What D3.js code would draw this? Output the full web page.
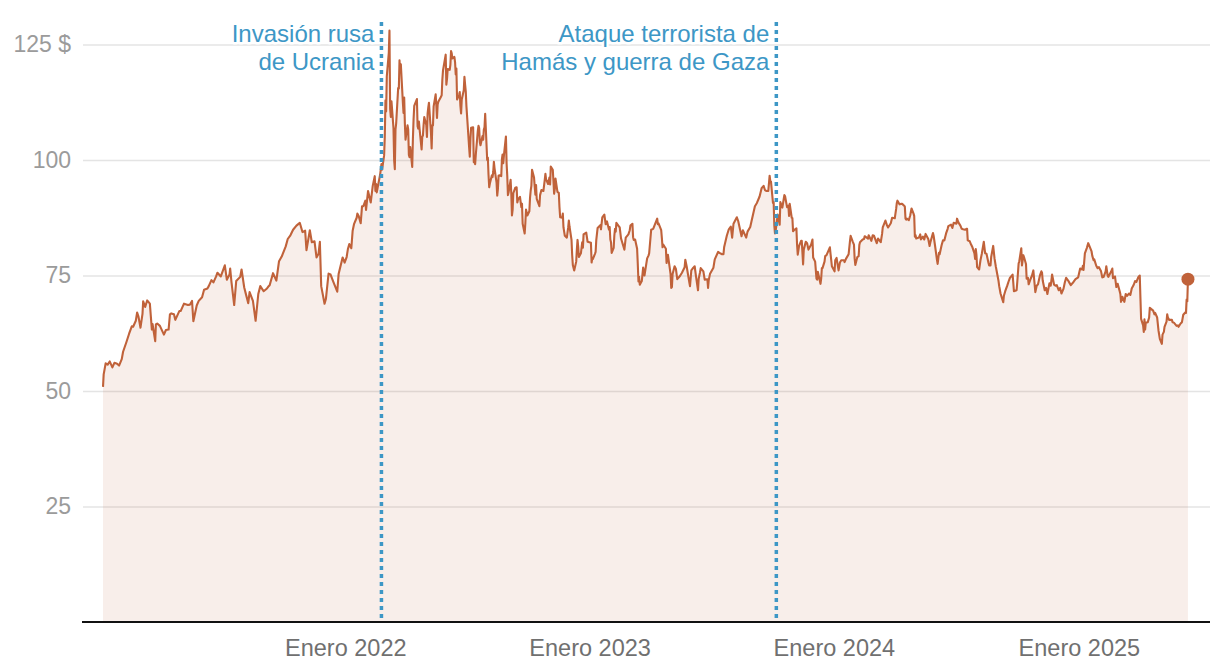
<!DOCTYPE html>
<html>
<head>
<meta charset="utf-8">
<script src="https://cdn.jsdelivr.net/npm/d3@7"></script>
<style>
  body { margin: 0; background: #fff; }
  svg { display: block; font-family: "Liberation Sans", Arial, Helvetica, sans-serif; }
</style>
</head>
<body>
<svg id="chart" width="1220" height="668"></svg>
<script>
// ---- Data: Brent crude price (USD per barrel) ----
const dates2021 = ["01-04","01-05","01-08","01-11","01-14","01-18","01-21","01-25","01-28","02-01","02-03","02-08","02-12","02-16","02-18","02-22","02-24","02-26","03-01","03-04","03-05","03-08","03-11","03-15","03-18","03-19","03-23","03-24","03-26","03-30","04-05","04-08","04-12","04-14","04-16","04-20","04-22","04-28","04-30","05-05","05-11","05-14","05-17","05-19","05-24","05-27","06-01","06-04","06-09","06-11","06-15","06-18","06-22","06-24","06-29","07-05","07-08","07-12","07-13","07-15","07-19","07-22","07-28","07-30","08-03","08-06","08-09","08-11","08-16","08-20","08-24","08-27","09-01","09-06","09-08","09-10","09-15","09-20","09-24","09-28","10-04","10-07","10-11","10-15","10-20","10-25","10-29","11-02","11-04","11-09","11-12","11-16","11-19","11-22","11-24","11-26","12-01","12-03","12-07","12-10","12-14","12-20","12-22","12-28","12-31"];
const prices2021 = [50.9,53.6,56.0,55.7,56.4,55.1,56.1,55.9,55.5,56.9,58.5,60.6,62.4,64.0,63.9,65.2,67.0,66.1,63.7,66.7,69.4,68.2,69.6,68.9,63.3,64.5,60.8,64.4,64.6,64.1,62.2,63.2,63.3,66.6,66.8,66.6,65.4,67.3,67.3,68.9,68.6,68.7,69.5,65.1,68.5,69.5,70.3,71.9,72.2,72.7,74.0,73.5,74.8,75.6,74.8,77.2,74.1,75.2,76.5,73.5,68.6,73.8,74.7,76.3,72.4,70.7,69.0,71.4,69.5,65.2,71.0,72.7,71.6,72.2,72.6,72.9,75.5,73.9,78.1,79.1,81.3,82.9,83.7,84.9,85.8,86.4,84.4,84.7,80.5,84.8,82.2,82.4,78.9,79.7,82.3,72.7,68.9,69.9,75.4,75.2,73.7,71.5,75.3,78.9,77.8];

const dates2022 = ["01-03","01-05","01-07","01-10","01-12","01-14","01-18","01-19","01-21","01-24","01-26","01-28","01-31","02-01","02-04","02-08","02-11","02-14","02-15","02-16","02-17","02-22","02-24","02-25","02-28","03-01","03-02","03-03","03-04","03-07","03-08","03-09","03-10","03-11","03-14","03-15","03-16","03-17","03-18","03-21","03-22","03-23","03-24","03-25","03-28","03-29","03-30","03-31","04-01","04-04","04-05","04-06","04-07","04-08","04-11","04-12","04-13","04-14","04-18","04-19","04-20","04-21","04-22","04-25","04-26","04-27","04-28","04-29","05-02","05-03","05-04","05-05","05-06","05-09","05-10","05-11","05-12","05-13","05-16","05-17","05-18","05-19","05-20","05-23","05-25","05-26","05-27","05-31","06-01","06-02","06-03","06-06","06-07","06-08","06-09","06-10","06-13","06-14","06-15","06-16","06-17","06-20","06-21","06-22","06-23","06-24","06-27","06-28","06-29","06-30","07-01","07-05","07-06","07-07","07-08","07-11","07-12","07-13","07-14","07-15","07-18","07-19","07-20","07-21","07-22","07-25","07-26","07-27","07-28","07-29","08-01","08-02","08-03","08-04","08-05","08-08","08-09","08-10","08-11","08-12","08-15","08-16","08-17","08-18","08-19","08-22","08-23","08-24","08-25","08-26","08-29","08-30","08-31","09-01","09-02","09-05","09-06","09-07","09-08","09-09","09-12","09-14","09-15","09-16","09-19","09-21","09-22","09-23","09-26","09-27","09-28","09-30","10-03","10-04","10-05","10-06","10-07","10-10","10-11","10-12","10-13","10-14","10-18","10-19","10-21","10-24","10-26","10-27","10-28","10-31","11-02","11-03","11-04","11-07","11-08","11-09","11-10","11-11","11-14","11-16","11-17","11-18","11-21","11-22","11-23","11-25","11-28","11-30","12-01","12-02","12-05","12-06","12-07","12-09","12-12","12-13","12-14","12-15","12-16","12-19","12-21","12-22","12-23","12-27","12-28","12-29"];
const prices2022 = [79.0,80.8,81.8,80.9,84.7,86.1,87.5,88.4,87.9,86.3,90.0,90.0,91.2,89.2,93.3,90.8,94.4,96.5,93.3,94.8,93.0,96.8,99.1,97.9,101.0,105.0,112.9,110.5,118.1,123.2,128.0,111.1,109.3,112.7,106.9,99.9,98.0,106.6,107.9,115.6,115.5,121.6,119.0,120.7,112.5,110.2,113.5,107.9,104.4,107.5,106.6,101.1,100.6,102.8,98.5,104.6,108.8,111.7,113.2,107.3,106.8,108.3,106.7,102.3,105.0,105.3,107.6,109.3,107.6,105.0,110.1,111.4,112.4,105.9,102.5,107.5,107.5,111.6,114.2,111.9,109.1,112.0,112.6,113.4,114.0,117.4,119.4,122.8,116.3,117.6,119.7,119.5,120.6,123.6,123.1,122.0,122.3,121.2,118.5,119.8,113.1,114.1,114.7,111.7,110.1,113.1,115.1,118.0,116.3,114.8,111.6,102.8,100.7,104.7,107.0,107.1,99.5,99.6,99.1,101.2,106.3,107.4,106.9,103.9,103.2,105.2,104.4,106.6,107.1,110.0,100.0,100.5,96.8,94.1,94.9,96.7,96.3,97.4,99.6,98.2,95.1,92.3,93.7,96.6,96.7,96.5,100.2,101.2,99.3,101.0,105.1,99.3,96.5,92.4,93.0,95.7,92.8,88.0,89.2,92.8,94.0,94.1,90.8,91.4,92.0,89.8,90.5,86.2,84.1,86.3,89.3,88.0,88.9,91.8,93.4,94.4,97.9,96.2,94.3,92.5,94.6,91.6,90.0,92.4,93.5,93.3,95.7,97.0,95.8,94.8,96.2,94.7,98.6,97.9,95.4,92.7,93.7,96.0,93.1,92.9,89.8,87.6,87.5,88.4,85.4,83.6,83.2,85.4,86.9,85.6,82.7,79.4,77.2,76.1,78.0,80.7,82.7,81.2,79.0,79.8,82.2,81.0,83.9,84.3,83.3,82.3];

const dates2023 = ["01-03","01-04","01-05","01-06","01-09","01-10","01-11","01-12","01-13","01-17","01-18","01-20","01-23","01-25","01-27","01-30","01-31","02-01","02-02","02-03","02-06","02-07","02-08","02-09","02-10","02-14","02-15","02-17","02-22","02-24","02-28","03-02","03-03","03-06","03-07","03-08","03-10","03-13","03-14","03-15","03-16","03-17","03-20","03-22","03-23","03-24","03-28","03-30","03-31","04-03","04-06","04-12","04-13","04-14","04-18","04-19","04-20","04-21","04-25","04-26","04-28","05-02","05-03","05-04","05-05","05-08","05-10","05-12","05-16","05-19","05-23","05-24","05-26","05-30","05-31","06-02","06-05","06-07","06-09","06-12","06-13","06-15","06-16","06-20","06-22","06-26","06-27","06-28","06-30","07-05","07-07","07-12","07-14","07-18","07-20","07-21","07-25","07-28","07-31","08-02","08-04","08-09","08-11","08-16","08-18","08-23","08-25","08-29","08-31","09-05","09-08","09-12","09-15","09-18","09-20","09-22","09-25","09-27","09-28","09-29","10-02","10-03","10-04","10-05","10-06","10-09","10-12","10-13","10-16","10-18","10-19","10-20","10-23","10-25","10-26","10-27","10-30","10-31","11-01","11-03","11-06","11-07","11-08","11-10","11-13","11-14","11-16","11-17","11-20","11-22","11-24","11-28","11-30","12-01","12-04","12-06","12-07","12-08","12-12","12-13","12-14","12-15","12-18","12-19","12-21","12-26","12-27","12-28","12-29"];
const prices2023 = [82.1,77.8,78.7,78.6,79.7,80.1,82.7,84.0,85.3,85.9,85.0,87.6,88.2,86.1,86.7,84.9,85.5,82.8,82.2,79.9,81.0,83.7,85.1,84.5,86.4,85.6,85.4,83.0,80.6,83.2,83.9,84.8,85.8,86.2,83.3,82.7,82.8,80.8,77.5,73.7,74.7,73.0,73.8,76.7,75.9,75.0,78.7,79.3,79.8,84.9,85.1,87.3,86.1,86.3,84.8,83.1,81.1,81.7,80.8,77.7,79.5,75.3,72.3,72.5,75.3,77.0,76.4,74.2,74.9,75.6,76.8,78.4,77.0,73.5,72.7,76.1,76.7,77.0,74.8,71.8,74.3,75.7,76.6,75.9,74.1,74.2,72.3,74.0,75.4,76.7,78.5,80.1,79.9,79.6,79.6,81.1,83.6,85.0,85.6,83.2,86.2,87.6,86.8,83.5,84.8,83.2,84.5,85.5,86.8,90.0,90.7,92.1,93.9,94.4,93.5,93.3,93.3,96.6,95.4,95.3,90.7,90.9,85.8,84.1,84.6,88.2,86.0,90.9,89.7,91.5,92.4,92.2,89.8,90.1,87.9,90.5,87.5,87.4,84.6,84.9,85.2,81.6,79.5,81.4,82.5,82.5,77.4,80.6,82.3,82.0,80.6,81.7,82.8,78.9,78.0,74.3,74.1,75.8,73.2,74.3,76.6,76.6,78.0,79.2,79.4,81.1,79.7,78.4,77.0];

const dates2024 = ["01-02","01-03","01-05","01-08","01-10","01-12","01-16","01-17","01-19","01-23","01-25","01-26","01-29","01-31","02-01","02-02","02-05","02-07","02-08","02-09","02-13","02-15","02-16","02-21","02-22","02-26","02-28","03-01","03-05","03-07","03-11","03-13","03-14","03-18","03-20","03-22","03-26","03-28","04-01","04-03","04-04","04-05","04-08","04-10","04-12","04-15","04-16","04-17","04-18","04-19","04-22","04-24","04-26","04-29","04-30","05-01","05-02","05-03","05-07","05-09","05-10","05-13","05-15","05-17","05-21","05-23","05-24","05-28","05-29","05-31","06-03","06-04","06-06","06-07","06-10","06-12","06-14","06-17","06-19","06-20","06-24","06-26","06-28","07-02","07-03","07-05","07-08","07-10","07-12","07-15","07-17","07-18","07-19","07-22","07-24","07-26","07-29","07-30","07-31","08-01","08-02","08-05","08-07","08-09","08-12","08-14","08-16","08-19","08-20","08-22","08-23","08-26","08-28","08-30","09-03","09-04","09-06","09-10","09-11","09-13","09-16","09-18","09-20","09-24","09-25","09-26","09-30","10-01","10-03","10-04","10-07","10-08","10-10","10-11","10-14","10-15","10-17","10-18","10-21","10-23","10-25","10-28","10-30","11-01","11-04","11-06","11-07","11-08","11-11","11-13","11-15","11-18","11-20","11-22","11-25","11-27","11-29","12-02","12-04","12-06","12-09","12-11","12-13","12-16","12-18","12-20","12-24","12-27","12-31"];
const prices2024 = [75.9,78.3,78.8,76.1,77.8,78.3,78.3,77.9,78.6,79.6,82.4,83.6,82.4,81.7,78.7,77.3,79.0,79.2,81.6,82.2,82.8,82.9,83.5,83.0,83.7,82.5,83.7,83.6,82.0,83.0,82.2,84.0,85.4,86.9,86.0,85.4,86.3,87.5,87.4,89.4,90.7,91.2,90.4,90.5,90.5,90.1,89.9,87.3,87.1,87.3,87.0,88.0,89.5,88.4,87.9,83.4,83.7,83.0,83.2,83.9,82.8,83.4,82.8,84.0,82.9,81.4,82.1,84.2,83.6,81.6,78.4,77.5,79.9,79.6,81.6,82.6,82.6,84.3,85.1,85.7,86.0,85.3,86.4,86.2,87.3,86.5,85.8,85.1,85.0,84.9,85.1,85.1,82.6,82.4,81.7,81.1,79.8,78.6,80.7,79.5,76.8,76.3,78.3,79.7,82.3,79.8,79.7,77.7,77.2,77.2,79.0,81.4,78.7,76.9,73.8,72.7,71.1,69.2,70.6,71.6,72.8,73.7,74.5,75.2,73.5,71.6,71.8,73.6,77.6,78.1,80.9,77.2,79.4,79.0,77.5,74.3,74.5,73.1,74.3,75.0,76.1,71.4,72.8,73.1,75.1,75.9,75.6,73.9,71.8,72.3,71.0,73.3,72.8,75.2,73.0,72.8,72.9,71.8,72.3,71.1,72.1,73.5,74.5,73.9,73.4,72.9,73.6,74.2,74.6];

const dates2025 = ["01-02","01-03","01-06","01-07","01-08","01-10","01-13","01-15","01-17","01-20","01-21","01-23","01-24","01-27","01-29","01-31","02-03","02-05","02-07","02-10","02-11","02-13","02-14","02-18","02-20","02-21","02-24","02-26","02-28","03-03","03-04","03-05","03-07","03-10","03-12","03-14","03-17","03-19","03-21","03-24","03-26","03-28","03-31","04-02","04-03","04-04","04-07","04-08","04-09","04-10","04-11","04-14","04-16","04-17","04-22","04-24","04-25","04-28","04-30","05-02","05-05","05-06","05-08","05-09","05-12","05-13","05-14","05-16","05-20","05-21","05-23","05-27","05-29","05-30","06-02","06-04","06-06","06-09","06-10","06-11","06-12","06-13"];
const prices2025 = [75.9,76.5,76.3,77.1,76.2,79.8,81.0,82.0,81.3,80.2,79.3,78.3,78.5,77.1,76.6,76.8,76.0,74.6,74.7,75.9,77.0,75.0,74.7,75.8,76.5,74.4,74.8,72.5,73.2,71.6,71.0,69.3,70.4,69.3,71.0,70.6,71.1,70.8,72.2,73.0,73.8,73.6,74.7,75.0,70.1,65.6,64.2,62.8,65.5,63.3,64.8,64.9,65.9,68.0,67.4,66.6,66.9,65.9,63.1,61.3,60.2,62.2,62.8,63.9,65.0,66.6,65.9,65.4,65.4,64.9,64.8,64.1,64.2,63.9,64.6,64.9,66.5,67.0,66.9,69.8,69.4,74.2];

const yTickValues = [25, 50, 75, 100, 125];
const xTickYears = [2022, 2023, 2024, 2025];
const xTickPrefix = "Enero";
const eventDates = ["2022-02-24", "2023-10-07"];
const eventLabels = [["Invasión rusa", "de Ucrania"], ["Ataque terrorista de", "Hamás y guerra de Gaza"]];

// ---- Build series ----
const parse = d3.utcParse("%Y-%m-%d");
function yearSeries(year, ds, ps) {
  return ds.map((d, i) => ({ date: parse(year + "-" + d), value: ps[i] }));
}
const series = [].concat(
  yearSeries(2021, dates2021, prices2021),
  yearSeries(2022, dates2022, prices2022),
  yearSeries(2023, dates2023, prices2023),
  yearSeries(2024, dates2024, prices2024),
  yearSeries(2025, dates2025, prices2025)
);

// ---- Layout ----
const svg = d3.select("#chart");
const plotLeft = 83, plotRight = 1210;
const x = d3.scaleUtc()
  .domain([Date.UTC(2021, 0, 1), Date.UTC(2025, 6, 1)])
  .range([101, 1200]);
const y = d3.scaleLinear().domain([0, 125]).range([622, 44.5]);

const lineColor = "#c0623a";
const blue = "#3d97c6";

// Y gridlines + labels
const yAxis = svg.append("g")
  .attr("transform", `translate(${plotLeft},0)`)
  .call(d3.axisLeft(y)
    .tickValues(yTickValues)
    .tickSize(-(plotRight - plotLeft))
    .tickPadding(12)
    .tickFormat(d => d === 125 ? "125 $" : String(d)));
yAxis.select(".domain").remove();
yAxis.selectAll(".tick line").attr("stroke", "#e4e4e4").attr("stroke-width", 1.6);
yAxis.selectAll(".tick text")
  .attr("fill", "#9b9b9b")
  .style("font-size", "23px")
  .style("font-family", "'Liberation Sans', Arial, Helvetica, sans-serif");

// Area
const area = d3.area()
  .x(d => x(d.date))
  .y0(y(0))
  .y1(d => y(d.value));
svg.append("path")
  .datum(series)
  .attr("d", area)
  .attr("fill", lineColor)
  .attr("fill-opacity", 0.105);

// Price line
const line = d3.line()
  .x(d => x(d.date))
  .y(d => y(d.value));
svg.append("path")
  .datum(series)
  .attr("d", line)
  .attr("fill", "none")
  .attr("stroke", lineColor)
  .attr("stroke-width", 2.1)
  .attr("stroke-linejoin", "round");

// Event dotted lines
eventDates.forEach(ed => {
  const ex = x(parse(ed));
  svg.append("line")
    .attr("x1", ex).attr("x2", ex)
    .attr("y1", 22).attr("y2", y(0))
    .attr("stroke", blue)
    .attr("stroke-width", 3.5)
    .attr("stroke-dasharray", "4 4");
});

// Last point marker
const last = series[series.length - 1];
svg.append("circle")
  .attr("cx", x(last.date))
  .attr("cy", y(last.value))
  .attr("r", 6.5)
  .attr("fill", lineColor);

// Baseline
svg.append("line")
  .attr("x1", 82).attr("x2", plotRight)
  .attr("y1", y(0)).attr("y2", y(0))
  .attr("stroke", "#111")
  .attr("stroke-width", 2);

// X axis labels
const xAxis = svg.append("g")
  .attr("transform", `translate(0,${y(0)})`)
  .call(d3.axisBottom(x)
    .tickValues(xTickYears.map(yr => new Date(Date.UTC(yr, 0, 1))))
    .tickSize(0)
    .tickPadding(17)
    .tickFormat(d => xTickPrefix + " " + d.getUTCFullYear()));
xAxis.select(".domain").remove();
xAxis.selectAll(".tick text")
  .attr("fill", "#707070")
  .style("font-size", "23.5px")
  .style("font-family", "'Liberation Sans', Arial, Helvetica, sans-serif");

// Event labels
eventDates.forEach((ed, i) => {
  const ex = x(parse(ed));
  const t = svg.append("text")
    .attr("text-anchor", "end")
    .attr("fill", blue)
    .attr("stroke", "#fff")
    .attr("stroke-width", 5)
    .attr("paint-order", "stroke")
    .attr("stroke-linejoin", "round")
    .style("font-size", "24px");
  eventLabels[i].forEach((lbl, j) => {
    t.append("tspan")
      .attr("x", ex - 7)
      .attr("y", 41.5 + j * 28.5)
      .text(lbl);
  });
});
</script>
</body>
</html>
